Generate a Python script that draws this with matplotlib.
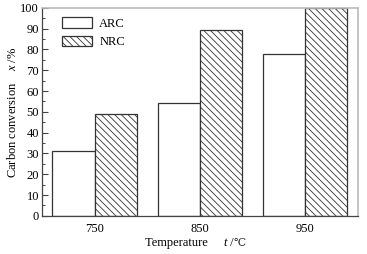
import matplotlib
matplotlib.use("Agg")
import matplotlib.pyplot as plt
import numpy as np
from matplotlib.patches import Patch
from matplotlib.ticker import MultipleLocator
from matplotlib.offsetbox import TextArea, HPacker, AnchoredOffsetbox

plt.rcParams['font.family'] = ['Liberation Serif', 'DejaVu Serif']
plt.rcParams['mathtext.fontset'] = 'custom'
plt.rcParams['mathtext.it'] = 'Liberation Serif:italic'
plt.rcParams['mathtext.rm'] = 'Liberation Serif'
plt.rcParams['hatch.linewidth'] = 0.6
plt.rcParams['hatch.color'] = '#444444'

categories = ['750', '850', '950']
arc = [31, 54.5, 78]
nrc = [49, 89.5, 100]

fs = 9
fig = plt.figure(figsize=(3.67, 2.54), dpi=100)
ax = fig.add_axes([0.114, 0.150, 0.861, 0.819])
x = np.arange(len(categories))
w = 0.4
ec = '#333333'
hatch = '\\\\\\\\\\'
ax.bar(x - w/2, arc, w, facecolor='white', edgecolor=ec, linewidth=0.9)
ax.bar(x + w/2, nrc, w, facecolor='white', edgecolor=ec, linewidth=0.9, hatch=hatch)

ax.set_xlim(-0.5, 2.5)
ax.set_ylim(0, 100)
ax.set_xticks(x)
ax.set_xticklabels(categories)
ax.yaxis.set_major_locator(MultipleLocator(10))
ax.yaxis.set_minor_locator(MultipleLocator(5))
ax.tick_params(axis='y', which='major', direction='in', length=4, width=0.8, labelsize=fs, pad=2, color='#444444')
ax.tick_params(axis='y', which='minor', direction='in', length=2, width=0.7, color='#444444')
ax.tick_params(axis='x', length=0, labelsize=fs, pad=5)

for s in ['left', 'bottom']:
    ax.spines[s].set_color('#444444')
    ax.spines[s].set_linewidth(0.9)
for s in ['top', 'right']:
    ax.spines[s].set_color('#bbbbbb')
    ax.spines[s].set_linewidth(1.2)

ax.set_ylabel(r'Carbon conversion    $x$ /%', fontsize=fs, labelpad=1)

# x label with italic t and ℃ glyph
pieces = [TextArea('Temperature     ', textprops=dict(fontsize=fs)),
          TextArea('t', textprops=dict(fontsize=fs, style='italic')),
          TextArea(' /', textprops=dict(fontsize=fs)),
          TextArea('℃', textprops=dict(fontsize=7.8, color='#222222'))]
packed = HPacker(children=pieces, align='baseline', pad=0, sep=0)
xl = AnchoredOffsetbox(loc='center', child=packed, pad=0, frameon=False,
                       bbox_to_anchor=(0.533, 0.043), bbox_transform=fig.transFigure,
                       borderpad=0)
fig.add_artist(xl)

handles = [Patch(facecolor='white', edgecolor=ec, linewidth=0.9, label='ARC'),
           Patch(facecolor='white', edgecolor=ec, linewidth=0.9, hatch=hatch, label='NRC')]
ax.legend(handles=handles, loc='upper left', bbox_to_anchor=(0.063, 0.955), frameon=False,
          borderpad=0, borderaxespad=0,
          fontsize=fs, handlelength=2.4, handleheight=0.95, handletextpad=0.6, labelspacing=0.45)

fig.savefig('out.png', dpi=100)
